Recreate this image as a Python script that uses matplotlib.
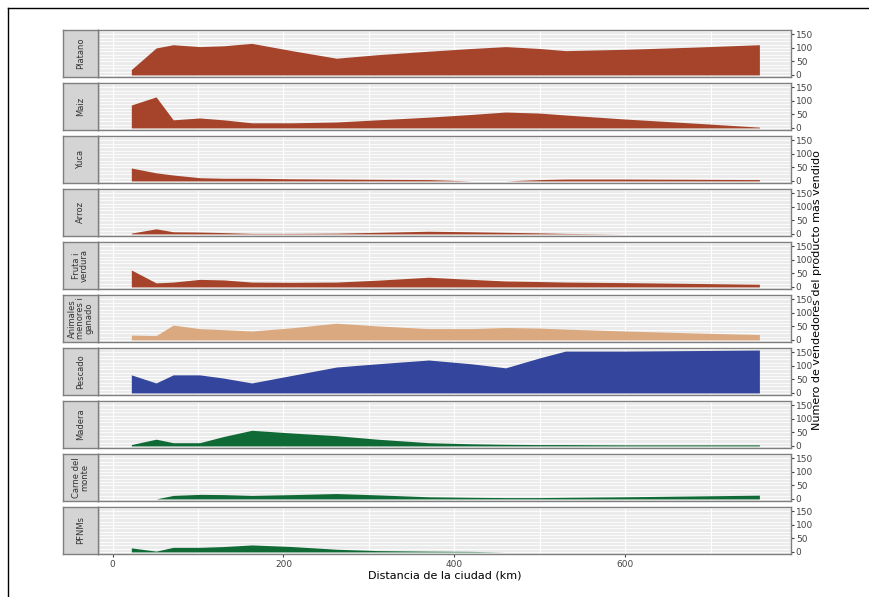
import numpy as np
import matplotlib.pyplot as plt
from matplotlib.lines import Line2D

# Distancias (km) de las comunidades
dist = [22, 51, 71, 102, 130, 163, 210, 262, 310, 370, 420, 460, 500, 530, 600, 680, 757]

productos = ['Platano', 'Maiz', 'Yuca', 'Arroz', 'Fruta i\nverdura',
             'Animales\nmenores i\nganado', 'Pescado', 'Madera',
             'Carne del\nmonte', 'PFNMs']

platano = [20, 100, 112, 105, 108, 117, 90, 62, 75, 88, 98, 105, 98, 90, 95, 103, 112]
maiz = [85, 115, 30, 37, 30, 19, 19, 22, 30, 40, 50, 59, 55, 48, 33, 18, 3]
yuca = [48, 30, 22, 12, 10, 10, 8, 7, 6, 5, 0, 0, 5, 7, 7, 6, 5]
arroz = [3, 19, 8, 7, 5, 2, 2, 3, 6, 10, 8, 6, 4, 2, 0, 0, 0]
fruta = [63, 15, 18, 28, 26, 18, 17, 18, 25, 36, 28, 22, 20, 18, 16, 13, 10]
animales = [18, 16, 55, 42, 38, 33, 45, 62, 52, 42, 42, 46, 44, 40, 33, 26, 20]
pescado = [67, 37, 67, 67, 55, 37, 65, 96, 108, 122, 108, 93, 130, 155, 155, 157, 159]
madera = [5, 25, 12, 12, 35, 58, 48, 38, 25, 12, 8, 6, 5, 5, 4, 4, 4]
carne = [0, 0, 13, 17, 16, 13, 16, 20, 15, 8, 6, 5, 5, 6, 8, 11, 14]
pfnm = [15, 3, 17, 17, 20, 26, 20, 10, 5, 3, 2, 0, 0, 0, 0, 0, 0]

series = [platano, maiz, yuca, arroz, fruta, animales, pescado, madera, carne, pfnm]

rojo = '#A5442B'
colores = [rojo, rojo, rojo, rojo, rojo, '#DBA97F', '#33459C', '#0F6A35', '#0F6A35', '#0F6A35']

W, H = 869, 597
fig = plt.figure(figsize=(W / 100, H / 100), dpi=100)

# marco de la figura
fig.add_artist(Line2D([8 / W, 8 / W], [0, 1 - 8 / H], color='black', lw=1))
fig.add_artist(Line2D([8 / W, 1], [1 - 8 / H, 1 - 8 / H], color='black', lw=1))

x_izq, x_der = 98, 791
strip_izq = 63
pitch = 53
alto = 47.5
y_top0 = 29.6

for i, (nombre, vals, col) in enumerate(zip(productos, series, colores)):
    top = y_top0 + pitch * i
    ax = fig.add_axes([x_izq / W, 1 - (top + alto) / H, (x_der - x_izq) / W, alto / H])
    ax.set_facecolor('#EBEBEB')
    for yy in np.arange(0, 170, 12.5):
        ax.axhline(yy, color='white', lw=0.6, zorder=0)
    for xx in [0, 100, 200, 300, 400, 500, 600, 700]:
        ax.axvline(xx, color='white', lw=0.8, zorder=0)
    ax.fill_between(dist, 0, vals, color=col, lw=0, zorder=2)
    ax.set_xlim(-17, 794)
    ax.set_ylim(-8, 168)
    ax.yaxis.tick_right()
    ax.set_yticks([0, 50, 100, 150])
    ax.tick_params(axis='y', labelsize=6.5, colors='#444444', length=2, pad=1.5)
    ax.set_xticks([0, 200, 400, 600])
    if i < len(productos) - 1:
        ax.tick_params(axis='x', labelbottom=False, length=0)
    else:
        ax.tick_params(axis='x', labelsize=6.5, colors='#444444', length=2, pad=2)
        ax.set_xlabel('Distancia de la ciudad (km)', fontsize=8, labelpad=1)
    for s in ax.spines.values():
        s.set_color('#7F7F7F')
        s.set_linewidth(1.0)

    # tira con el nombre del producto
    sax = fig.add_axes([strip_izq / W, 1 - (top + alto) / H, (x_izq - strip_izq) / W, alto / H])
    sax.set_facecolor('#D4D4D4')
    sax.set_xticks([])
    sax.set_yticks([])
    for s in sax.spines.values():
        s.set_color('#7F7F7F')
        s.set_linewidth(1.0)
    sax.text(0.5, 0.5, nombre, rotation=90, ha='center', va='center',
             fontsize=6, color='#333333', linespacing=0.9, transform=sax.transAxes)

fig.text(817 / W, 1 - 290 / H, 'Numero de vendedores del producto mas vendido',
         rotation=90, ha='center', va='center', fontsize=8)

fig.savefig('out.png', dpi=100)
